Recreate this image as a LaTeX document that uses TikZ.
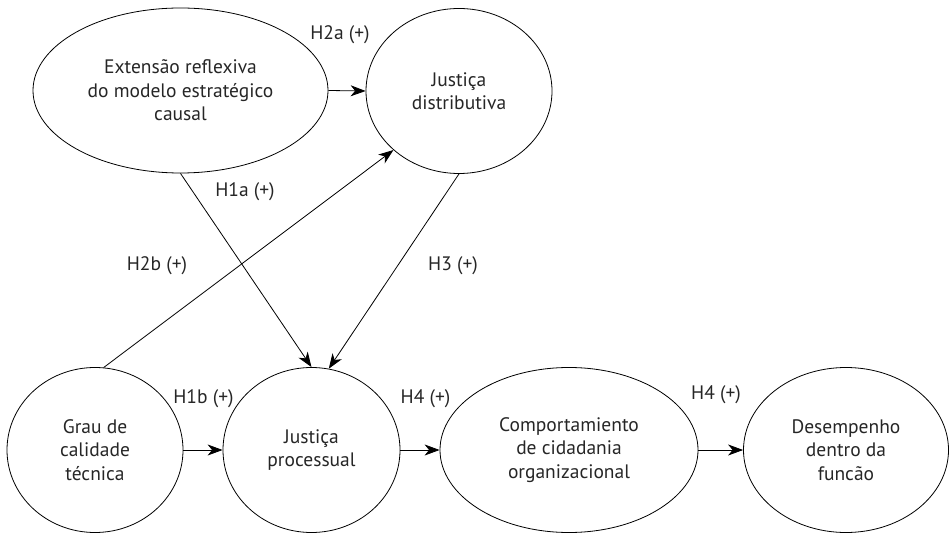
\documentclass[tikz,border=0pt]{standalone}
\usepackage{fontspec}
\setmainfont{PT Sans}
\usetikzlibrary{shapes.geometric,arrows.meta}
\begin{document}
\begin{tikzpicture}[x=1pt,y=-1pt,
  construct/.style={draw, ellipse, line width=0.8pt, inner sep=0pt, align=center,
    font=\fontsize{19.5}{23.5}\selectfont, text=black!85},
  hyp/.style={font=\fontsize{19.5}{22}\selectfont, text=black!85, inner sep=0pt},
  link/.style={line width=0.8pt, -{Stealth[length=15pt,width=11pt,inset=4.5pt]}}]
\useasboundingbox (0,0) rectangle (950,534);
\node[construct, minimum width=295pt, minimum height=165pt] (e1) at (180.5,90.5)
  {Extensão reflexiva\\do modelo estratégico\\causal};
\node[construct, minimum width=186pt, minimum height=165pt] (jd) at (459,91)
  {Justiça\\distributiva};
\node[construct, minimum width=176pt, minimum height=165pt] (gr) at (95,450)
  {Grau de\\calidade\\técnica};
\node[construct, minimum width=177pt, minimum height=165pt] (jp) at (311.5,450)
  {Justiça\\processual};
\node[construct, minimum width=258pt, minimum height=165pt] (co) at (569,450)
  {Comportamiento\\de cidadania\\organizacional};
\node[construct, minimum width=205pt, minimum height=165pt] (de) at (846,450)
  {Desempenho\\dentro da\\funcão};
\draw[link] (e1.east) -- (jd.west);
\draw[link] (e1.south) -- (jp.north);
\draw[link] (gr.84) -- (jd.222);
\draw[link] (jd.-90) -- (jp.78);
\draw[link] (gr.east) -- (jp.west);
\draw[link] (jp.east) -- (co.west);
\draw[link] (co.east) -- (de.west);
\node[hyp] (l2a) at (340,35) {H2a (+)};
\node[hyp] (l1a) at (245,192) {H1a (+)};
\node[hyp] (l2b) at (157,266) {H2b (+)};
\node[hyp] (l3) at (453,266) {H3 (+)};
\node[hyp] (l1b) at (203.5,399) {H1b (+)};
\node[hyp] (l4a) at (425.5,399) {H4 (+)};
\node[hyp] (l4b) at (716,395) {H4 (+)};
\end{tikzpicture}
\end{document}
